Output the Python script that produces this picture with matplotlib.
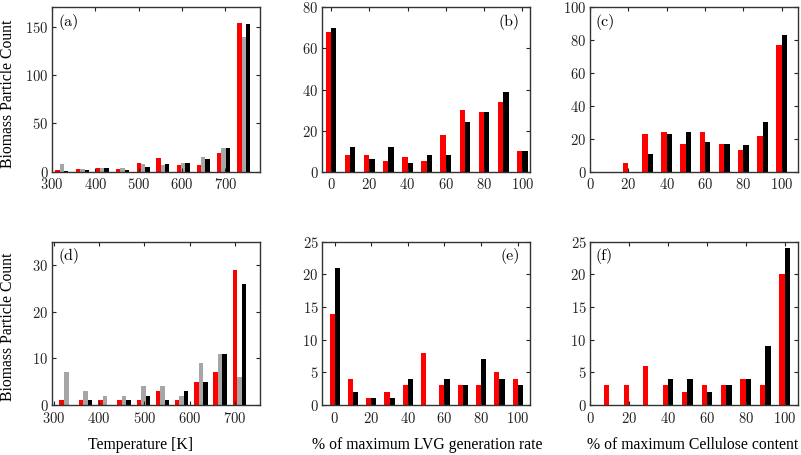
import numpy as np
import matplotlib.pyplot as plt

plt.rcParams['font.family'] = 'cmr10'
plt.rcParams['axes.formatter.use_mathtext'] = True

# temperature bin centres [K]
temp_top = [323, 370, 416, 463, 510, 556, 603, 649, 696, 743]
temp_bot = [328, 370, 413, 455, 498, 540, 582, 625, 667, 710]

# (a) counts per temperature bin
red_a = [2, 3, 4, 3, 9, 14, 7, 7, 19, 154]
gray_a = [8, 3, 4, 4, 8, 7, 9, 15, 24, 139]
black_a = [1, 2, 4, 2, 5, 8, 9, 13, 24, 153]

# (d) counts per temperature bin
red_d = [1, 1, 1, 1, 1, 3, 1, 5, 7, 29]
gray_d = [7, 3, 2, 2, 4, 4, 2, 9, 11, 6]
black_d = [0, 1, 0, 1, 2, 1, 3, 5, 11, 26]

# % of maximum LVG generation rate
lvg_pct = [0, 10, 20, 30, 40, 50, 60, 70, 80, 90, 100]
red_b = [68, 8, 8, 5, 7, 5, 18, 30, 29, 34, 10]
black_b = [70, 12, 6, 12, 4, 8, 8, 24, 29, 39, 10]
red_e = [14, 4, 1, 2, 3, 8, 3, 3, 3, 5, 4]
black_e = [21, 2, 1, 1, 4, 0, 4, 3, 7, 4, 3]

# % of maximum cellulose content
cell_pct = [10, 20, 30, 40, 50, 60, 70, 80, 90, 100]
red_c = [0, 5, 23, 24, 17, 24, 17, 13, 22, 77]
black_c = [0, 0, 11, 23, 24, 18, 17, 16, 30, 83]
red_f = [3, 3, 6, 3, 2, 3, 3, 4, 3, 20]
black_f = [0, 0, 0, 4, 4, 2, 3, 4, 9, 24]

RED = '#ff0000'
GRAY = '#a6a6a6'
BLACK = '#000000'

W, H = 801, 455
fig = plt.figure(figsize=(W / 100, H / 100), dpi=100)


def box(l, t, r, b):
    return [l / W, 1 - b / H, (r - l) / W, (b - t) / H]


def style(ax):
    ax.tick_params(direction='in', top=True, right=True, length=3, width=0.8,
                   labelsize=10.5, pad=2.5, colors='#222222')
    ax.tick_params(axis='x', pad=4)
    for s in ax.spines.values():
        s.set_linewidth(1.0)
        s.set_color('#333333')


def temp_panel(ax, x, r, g, k, xlim, ylim, yticks, tag):
    x = np.array(x, dtype=float)
    w = 10
    ax.bar(x - w, r, width=w, color=RED)
    ax.bar(x, g, width=w, color=GRAY)
    ax.bar(x + w, k, width=w, color=BLACK)
    ax.set_xlim(*xlim)
    ax.set_ylim(*ylim)
    ax.set_xticks([300, 400, 500, 600, 700])
    ax.set_yticks(yticks)
    style(ax)
    ax.text(0.03, 0.91, tag, transform=ax.transAxes, fontsize=11.5,
            ha='left', va='center')


def pct_panel(ax, x, r, k, xlim, ylim, yticks, tag, right_tag):
    x = np.array(x, dtype=float)
    w = 2.8
    ax.bar(x - w / 2, r, width=w, color=RED)
    ax.bar(x + w / 2, k, width=w, color=BLACK)
    ax.set_xlim(*xlim)
    ax.set_ylim(*ylim)
    ax.set_xticks([0, 20, 40, 60, 80, 100])
    ax.set_yticks(yticks)
    style(ax)
    if right_tag:
        ax.text(0.95, 0.91, tag, transform=ax.transAxes, fontsize=11.5,
                ha='right', va='center')
    else:
        ax.text(0.025, 0.91, tag, transform=ax.transAxes, fontsize=11.5,
                ha='left', va='center')


ax_a = fig.add_axes(box(52, 7.3, 260, 171.7))
ax_b = fig.add_axes(box(322, 7.3, 530, 171.7))
ax_c = fig.add_axes(box(590, 7.3, 798, 171.7))
ax_d = fig.add_axes(box(52, 241.7, 260, 405))
ax_e = fig.add_axes(box(322, 241.7, 530, 405))
ax_f = fig.add_axes(box(590, 241.7, 798, 405))

temp_panel(ax_a, temp_top, red_a, gray_a, black_a, (300, 780), (0, 170), [0, 50, 100, 150], '(a)')
temp_panel(ax_d, temp_bot, red_d, gray_d, black_d, (296.5, 755), (0, 35), [0, 10, 20, 30], '(d)')
pct_panel(ax_b, lvg_pct, red_b, black_b, (-4.7, 104), (0, 80), [0, 20, 40, 60, 80], '(b)', True)
pct_panel(ax_e, lvg_pct, red_e, black_e, (-6.9, 106.7), (0, 25), [0, 5, 10, 15, 20, 25], '(e)', True)
pct_panel(ax_c, cell_pct, red_c, black_c, (0, 108.5), (0, 100), [0, 20, 40, 60, 80, 100], '(c)', False)
pct_panel(ax_f, cell_pct, red_f, black_f, (0, 106.7), (0, 25), [0, 5, 10, 15, 20, 25], '(f)', False)

lab = dict(family='Liberation Serif', fontsize=11.3, ha='center', va='center')
fig.text(8 / W, 1 - 94 / H, 'Biomass Particle Count', rotation=90, **lab)
fig.text(8 / W, 1 - 327 / H, 'Biomass Particle Count', rotation=90, **lab)
fig.text(140 / W, 1 - 445 / H, 'Temperature [K]', **lab)
fig.text(427.5 / W, 1 - 445 / H, '% of maximum LVG generation rate', **lab)
fig.text(692.7 / W, 1 - 445 / H, '% of maximum Cellulose content', **lab)

fig.savefig('out.png', dpi=100)
